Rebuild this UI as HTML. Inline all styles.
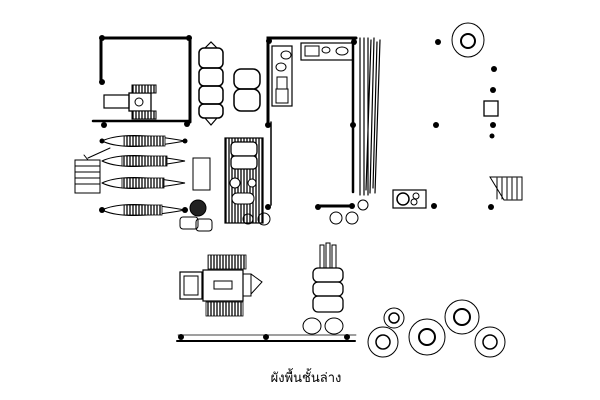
<!DOCTYPE html>
<html><head><meta charset="utf-8"><style>
html,body{margin:0;padding:0;background:#fff;width:600px;height:400px;overflow:hidden}
svg{display:block}
text{font-family:"Liberation Sans","DejaVu Sans",sans-serif}
</style></head><body>
<svg width="600" height="400" viewBox="0 0 600 400" xmlns="http://www.w3.org/2000/svg">
<defs>
<pattern id="h" width="3" height="4" patternUnits="userSpaceOnUse"><rect width="3" height="4" fill="#fff"/><line x1="1" y1="0" x2="1" y2="4" stroke="#000" stroke-width="1.3"/></pattern>
</defs>
<g fill="none" stroke="#000" stroke-linecap="round">
<!-- top-left room -->
<path d="M101 82 V38 H190 V122" stroke-width="3"/>
<path d="M93 121 H190" stroke-width="2.5"/>
<rect x="104" y="95" width="25" height="13" stroke-width="1.2"/>
<rect x="129" y="93" width="22" height="18" stroke-width="1.3"/>
<circle cx="139" cy="102" r="4"/>
<rect x="132" y="85" width="24" height="8" fill="url(#h)" stroke-width="1"/>
<rect x="132" y="111" width="24" height="8" fill="url(#h)" stroke-width="1"/>
<!-- sofa vertical -->
<rect x="199" y="48" width="24" height="20" rx="5" stroke-width="1.5"/>
<rect x="199" y="68" width="24" height="18" rx="5" stroke-width="1.5"/>
<rect x="199" y="86" width="24" height="18" rx="5" stroke-width="1.5"/>
<rect x="199" y="104" width="24" height="14" rx="5" stroke-width="1.5"/>
<path d="M205 48 L211 42 L217 48 M205 118 L211 125 L217 118" stroke-width="1.2"/>
<!-- chairs -->
<rect x="234" y="69" width="26" height="20" rx="7" stroke-width="1.5"/>
<rect x="234" y="89" width="26" height="22" rx="7" stroke-width="1.5"/>
<!-- right building -->
<path d="M268 125 V38 H356" stroke-width="3"/>
<path d="M353 38 V192" stroke-width="2.5"/>
<path d="M271 122 V205" stroke-width="1.5"/>
<path d="M318 206 H352" stroke-width="3"/>
<rect x="272" y="46" width="20" height="60" stroke-width="1.2"/>
<ellipse cx="286" cy="55" rx="5" ry="4"/>
<ellipse cx="281" cy="67" rx="5" ry="4"/>
<rect x="277" y="77" width="10" height="12"/>
<rect x="276" y="89" width="12" height="14"/>
<rect x="301" y="43" width="52" height="17" stroke-width="1.2"/>
<rect x="305" y="46" width="14" height="10"/>
<ellipse cx="326" cy="50" rx="4" ry="3"/>
<ellipse cx="342" cy="51" rx="6" ry="4"/>
<!-- planks -->
<path d="M360 38 V195 M364 38 V195 M368 38 V195 M371 40 L366 190 M374 38 L370 193 M377 42 L373 188 M380 40 L375 193" stroke-width="1.2"/>
<circle cx="363" cy="205" r="5"/>
<!-- hammocks -->
<g stroke-width="1">
<path d="M102 141 Q125 130 185 141 Q125 152 102 141"/>
<path d="M102 161 Q125 150 185 161 Q125 172 102 161"/>
<path d="M102 183 Q125 172 185 183 Q125 194 102 183"/>
<path d="M102 210 Q125 199 185 210 Q125 221 102 210"/>
</g>
<rect x="124" y="136" width="41" height="10" fill="url(#h)" stroke-width="0.8"/>
<rect x="122" y="156" width="45" height="10" fill="url(#h)" stroke-width="0.8"/>
<rect x="122" y="178" width="42" height="10" fill="url(#h)" stroke-width="0.8"/>
<rect x="124" y="205" width="38" height="10" fill="url(#h)" stroke-width="0.8"/>
<!-- left stairs -->
<path d="M75 160 H100 V193 H75 Z M75 166 H100 M75 172 H100 M75 178 H100 M75 184 H100 M88 158 L110 148 M84 155 L88 160" stroke-width="1"/>
<!-- table -->
<rect x="193" y="158" width="17" height="32" stroke-width="1"/>
<!-- hatched rect -->
<rect x="225" y="138" width="38" height="85" fill="url(#h)" stroke-width="1.2"/>
<rect x="231" y="142" width="26" height="14" rx="4" fill="#fff" stroke-width="1.3"/>
<rect x="231" y="156" width="26" height="13" rx="4" fill="#fff" stroke-width="1.3"/>
<circle cx="235" cy="183" r="5" fill="#fff"/>
<circle cx="252" cy="183" r="4" fill="#fff"/>
<rect x="232" y="193" width="22" height="11" rx="5" fill="#fff"/>
<circle cx="248" cy="219" r="5"/><circle cx="264" cy="219" r="6"/>
<circle cx="198" cy="208" r="8" fill="#222"/>
<rect x="180" y="217" width="18" height="12" rx="3"/>
<rect x="196" y="219" width="16" height="12" rx="3"/>
<circle cx="336" cy="218" r="6"/><circle cx="352" cy="218" r="6"/>
<!-- bottom -->
<path d="M177 341 H355" stroke-width="2"/>
<path d="M178 335 H356" stroke-width="0.8"/>
<rect x="208" y="255" width="38" height="14" fill="url(#h)" stroke-width="0.8"/>
<rect x="206" y="302" width="37" height="14" fill="url(#h)" stroke-width="0.8"/>
<rect x="180" y="272" width="22" height="27" stroke-width="1.2"/>
<rect x="184" y="276" width="14" height="19"/>
<rect x="203" y="270" width="40" height="31" stroke-width="1.2"/>
<rect x="214" y="281" width="18" height="8"/>
<rect x="243" y="274" width="8" height="22"/>
<path d="M251 274 L262 282 L251 294" />
<rect x="313" y="268" width="30" height="14" rx="5" stroke-width="1.3"/>
<rect x="313" y="282" width="30" height="14" rx="5" stroke-width="1.3"/>
<rect x="313" y="296" width="30" height="16" rx="5" stroke-width="1.3"/>
<path d="M320 268 V245 H324 V268 M326 268 V243 H330 V268 M332 268 V245 H336 V268" stroke-width="1"/>
<ellipse cx="312" cy="326" rx="9" ry="8"/><ellipse cx="334" cy="326" rx="9" ry="8"/>
<!-- circles -->
<circle cx="394" cy="318" r="10"/><circle cx="394" cy="318" r="5" stroke-width="1.5"/>
<circle cx="383" cy="342" r="15"/><circle cx="383" cy="342" r="7" stroke-width="1.5"/>
<circle cx="427" cy="337" r="18"/><circle cx="427" cy="337" r="8" stroke-width="2"/>
<circle cx="462" cy="317" r="17"/><circle cx="462" cy="317" r="8" stroke-width="2"/>
<circle cx="490" cy="342" r="15"/><circle cx="490" cy="342" r="7" stroke-width="1.5"/>
<!-- right side -->
<ellipse cx="468" cy="40" rx="16" ry="17"/><circle cx="468" cy="41" r="7" stroke-width="2"/>
<rect x="484" y="101" width="14" height="15" stroke-width="1.3"/>
<path d="M490 177 H522 V200 H504 Z M497 178 V199 M502 178 V199 M507 178 V199 M512 178 V199 M517 178 V199" stroke-width="1"/>
<rect x="393" y="190" width="33" height="18" stroke-width="1.2"/>
<circle cx="403" cy="199" r="6" stroke-width="1.5"/><circle cx="416" cy="196" r="3"/><circle cx="414" cy="202" r="3"/>
</g>
<g fill="#000">
<circle cx="102" cy="38" r="3"/><circle cx="189" cy="38" r="3"/><circle cx="102" cy="82" r="3"/>
<circle cx="104" cy="125" r="3"/><circle cx="187" cy="124" r="3"/>
<circle cx="269" cy="41" r="3"/><circle cx="354" cy="42" r="3"/><circle cx="268" cy="125" r="3"/><circle cx="353" cy="125" r="3"/>
<circle cx="268" cy="207" r="3"/><circle cx="318" cy="207" r="3"/><circle cx="352" cy="206" r="3"/>
<circle cx="102" cy="141" r="2.5"/><circle cx="185" cy="141" r="2.5"/>
<circle cx="102" cy="210" r="3"/><circle cx="185" cy="210" r="3"/>
<circle cx="181" cy="337" r="3"/><circle cx="266" cy="337" r="3"/><circle cx="347" cy="337" r="3"/>
<circle cx="438" cy="42" r="3"/><circle cx="494" cy="69" r="3"/><circle cx="493" cy="90" r="3"/>
<circle cx="436" cy="125" r="3"/><circle cx="493" cy="125" r="3"/><circle cx="492" cy="136" r="2.5"/>
<circle cx="434" cy="206" r="3"/><circle cx="491" cy="207" r="3"/>
</g>
<text x="306" y="382" font-size="13" text-anchor="middle" fill="#000">ผังพื้นชั้นล่าง</text>
</svg>
</body></html>
